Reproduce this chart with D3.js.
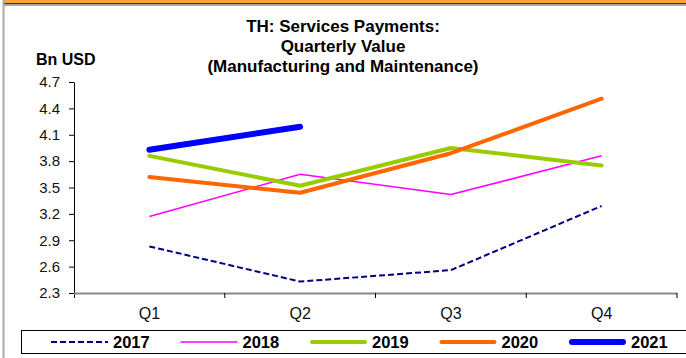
<!DOCTYPE html>
<html>
<head>
<meta charset="utf-8">
<script src="https://cdn.jsdelivr.net/npm/d3@7"></script>
<style>
  body { margin: 0; background: #fff; }
  svg { display: block; font-family: "Liberation Sans", Arial, sans-serif; }
</style>
</head>
<body>
<div id="chart"></div>
<script>
// data
var quarters = ["Q1", "Q2", "Q3", "Q4"];
var yTicks = [2.3, 2.6, 2.9, 3.2, 3.5, 3.8, 4.1, 4.4, 4.7];
var years = ["2017", "2018", "2019", "2020", "2021"];
var v2017 = [2.83, 2.43, 2.56, 3.29];
var v2018 = [3.17, 3.65, 3.42, 3.86];
var v2019 = [3.86, 3.52, 3.95, 3.75];
var v2020 = [3.62, 3.44, 3.89, 4.51];
var v2021 = [3.93, 4.19];

var svgWidth = 686;
var svgHeight = 358;
var plot = { left: 74, right: 677, top: 82, bottom: 293 };

var svg = d3.select("#chart")
  .append("svg")
  .attr("width", svgWidth)
  .attr("height", svgHeight);

// frame: orange strip at top, grey rules
svg.append("rect")
  .attr("x", 3).attr("y", 0)
  .attr("width", svgWidth - 3).attr("height", 3)
  .attr("fill", "#f7a833");
svg.append("line")
  .attr("x1", 3).attr("x2", svgWidth).attr("y1", 3.5).attr("y2", 3.5)
  .attr("stroke", "#333");
svg.append("line")
  .attr("x1", 3).attr("x2", svgWidth).attr("y1", 5).attr("y2", 5)
  .attr("stroke", "#aaa").attr("stroke-width", 2);
svg.append("line")
  .attr("x1", 3.5).attr("x2", 3.5).attr("y1", 0).attr("y2", svgHeight)
  .attr("stroke", "#aaa").attr("stroke-width", 2);

// title
var titleLines = ["TH: Services Payments:", "Quarterly Value", "(Manufacturing and Maintenance)"];
svg.selectAll(".title")
  .data(titleLines)
  .enter()
  .append("text")
  .attr("class", "title")
  .attr("x", 343)
  .attr("y", (d, i) => 32 + i * 20)
  .attr("text-anchor", "middle")
  .attr("font-size", "17px")
  .attr("font-weight", "bold")
  .text(d => d);

svg.append("text")
  .attr("x", 36)
  .attr("y", 65)
  .attr("font-size", "16px")
  .attr("font-weight", "bold")
  .text("Bn USD");

// scales
var xScale = d3.scaleBand()
  .domain(quarters)
  .range([plot.left, plot.right]);

var yScale = d3.scaleLinear()
  .domain([2.3, 4.7])
  .range([plot.bottom, plot.top]);

// y axis
var leftAxis = d3.axisLeft(yScale)
  .tickValues(yTicks)
  .tickFormat(d3.format(".1f"))
  .tickSizeInner(5)
  .tickSizeOuter(0)
  .tickPadding(9);

var yAxisG = svg.append("g")
  .attr("transform", `translate(${plot.left}, 0)`)
  .call(leftAxis);
yAxisG.select(".domain").attr("stroke", "#000");
yAxisG.selectAll("text")
  .attr("font-size", "15px")
  .attr("font-family", "Liberation Sans, Arial, sans-serif")
  .attr("fill", "#111");

// y axis continues a bit below the x axis
svg.append("line")
  .attr("x1", plot.left + 0.5).attr("x2", plot.left + 0.5)
  .attr("y1", plot.bottom).attr("y2", plot.bottom + 5)
  .attr("stroke", "#000");

// x axis: grey line with ticks between categories
svg.append("line")
  .attr("x1", plot.left).attr("x2", plot.right)
  .attr("y1", plot.bottom + 0.5).attr("y2", plot.bottom + 0.5)
  .attr("stroke", "#888").attr("stroke-width", 2);

var boundaries = quarters.slice(1).map(q => xScale(q)).concat([plot.right]);
svg.selectAll(".xtick")
  .data(boundaries)
  .enter()
  .append("line")
  .attr("class", "xtick")
  .attr("x1", d => d).attr("x2", d => d)
  .attr("y1", plot.bottom).attr("y2", plot.bottom + 5)
  .attr("stroke", "#000");

svg.selectAll(".xlabel")
  .data(quarters)
  .enter()
  .append("text")
  .attr("class", "xlabel")
  .attr("x", d => xScale(d) + xScale.bandwidth() / 2)
  .attr("y", 319)
  .attr("text-anchor", "middle")
  .attr("font-size", "16px")
  .attr("fill", "#111")
  .text(d => d);

// series
var series = [
  { name: "2017", values: v2017, color: "#000080", width: 2, dash: "6,3", cap: "butt" },
  { name: "2018", values: v2018, color: "#ff00ff", width: 1.5, dash: null, cap: "butt" },
  { name: "2019", values: v2019, color: "#99cc00", width: 4, dash: null, cap: "round" },
  { name: "2020", values: v2020, color: "#ff6600", width: 4, dash: null, cap: "round" },
  { name: "2021", values: v2021, color: "#0000ff", width: 6, dash: null, cap: "round" }
];

var line = d3.line()
  .x((d, i) => xScale(quarters[i]) + xScale.bandwidth() / 2)
  .y(d => yScale(d));

svg.selectAll(".series")
  .data(series)
  .enter()
  .append("path")
  .attr("class", "series")
  .attr("d", d => line(d.values))
  .attr("fill", "none")
  .attr("stroke", d => d.color)
  .attr("stroke-width", d => d.width)
  .attr("stroke-dasharray", d => d.dash)
  .attr("stroke-linecap", d => d.cap)
  .attr("stroke-linejoin", "round");

// legend
var legend = svg.append("g");
legend.append("rect")
  .attr("x", 21.5).attr("y", 330.5)
  .attr("width", 680).attr("height", 23)
  .attr("fill", "#fff")
  .attr("stroke", "#000");

var items = legend.selectAll(".item")
  .data(series)
  .enter()
  .append("g")
  .attr("class", "item")
  .attr("transform", (d, i) => `translate(${51 + i * 129.5}, 342)`);

items.append("line")
  .attr("x1", d => d.cap === "round" ? d.width / 2 : 0)
  .attr("x2", d => 57 - (d.cap === "round" ? d.width / 2 : 0))
  .attr("stroke", d => d.color)
  .attr("stroke-width", d => d.width)
  .attr("stroke-dasharray", d => d.dash)
  .attr("stroke-linecap", d => d.cap);

items.append("text")
  .attr("x", 62)
  .attr("y", 6)
  .attr("font-size", "16.5px")
  .attr("font-weight", "bold")
  .text(d => d.name);
</script>
</body>
</html>
